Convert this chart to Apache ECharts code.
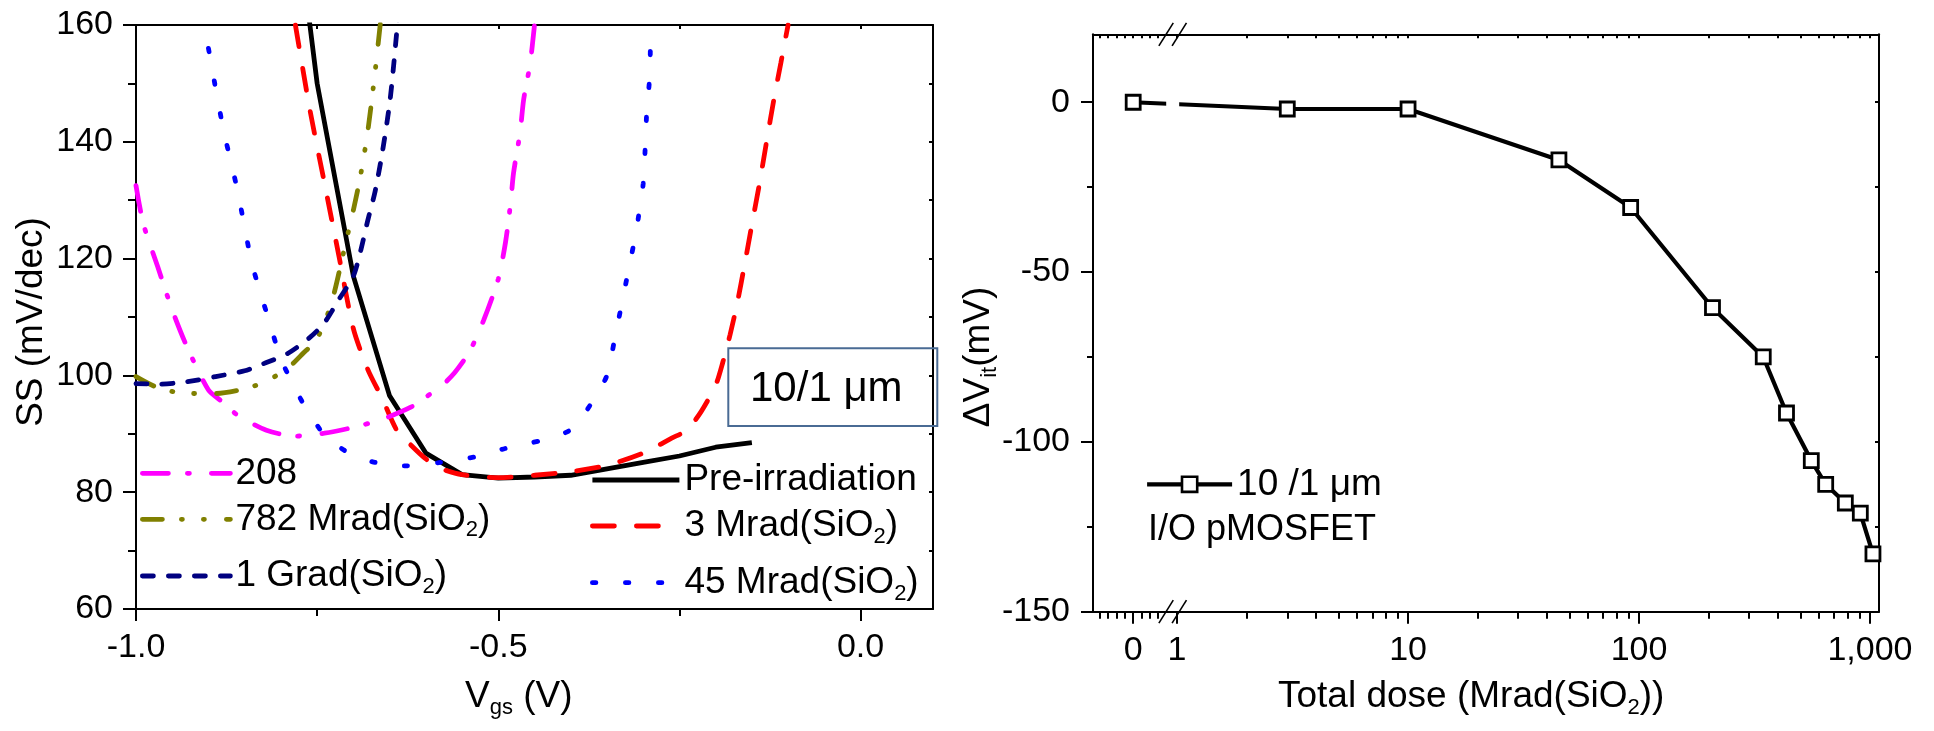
<!DOCTYPE html>
<html>
<head>
<meta charset="utf-8">
<script src="https://cdn.jsdelivr.net/npm/echarts@6/dist/echarts.min.js"></script>
<style>
  html, body { margin: 0; padding: 0; background: #fff; }
  #chart { width: 1934px; height: 731px; }
</style>
</head>
<body>
<div id="chart"></div>
<script>
const FONT = '"Liberation Sans", Arial, Helvetica, sans-serif';

// ---- Left panel: subthreshold swing SS (mV/dec) vs Vgs (V) ----
const preIrradiation = [[-0.80, 200], [-0.75, 150], [-0.70, 117], [-0.65, 96.5], [-0.60, 86.7],
  [-0.55, 83], [-0.50, 82.4], [-0.45, 82.6], [-0.40, 82.9], [-0.35, 84], [-0.30, 85.1],
  [-0.25, 86.2], [-0.20, 87.7], [-0.15, 88.5]];
const dose3M = [[-0.78, 160], [-0.76, 145.5], [-0.74, 133], [-0.72, 120.5], [-0.70, 108], [-0.68, 101],
  [-0.66, 96], [-0.64, 90.6], [-0.62, 88], [-0.60, 85.7], [-0.58, 84.1], [-0.55, 83], [-0.50, 82.5],
  [-0.45, 82.9], [-0.40, 83.5], [-0.35, 84.6], [-0.30, 86.7], [-0.26, 89.3], [-0.24, 90.6], [-0.22, 93.8],
  [-0.20, 98.3], [-0.19, 102.3], [-0.18, 107], [-0.17, 112.5], [-0.16, 119], [-0.15, 125.8],
  [-0.14, 132.5], [-0.13, 139.8], [-0.12, 147], [-0.11, 153.5], [-0.10, 160]];
const dose45M = [[-0.90, 156], [-0.88, 142.5], [-0.86, 131.7], [-0.84, 119.2], [-0.82, 110.8],
  [-0.80, 102.9], [-0.78, 97.6], [-0.76, 93.3], [-0.74, 89.8], [-0.72, 87.8], [-0.70, 86.3],
  [-0.67, 85.1], [-0.63, 84.5], [-0.58, 85.1], [-0.53, 86.1], [-0.49, 87.5], [-0.44, 88.9],
  [-0.40, 90.7], [-0.37, 95.5], [-0.35, 100], [-0.34, 105.8], [-0.33, 112], [-0.32, 118.2],
  [-0.31, 124.5], [-0.30, 132.8], [-0.297, 139.6], [-0.295, 145.3], [-0.291, 151.1], [-0.29, 157]];
const dose208M = [[-1.00, 132.5], [-0.99, 126], [-0.97, 118.6], [-0.95, 111.2], [-0.93, 105],
  [-0.90, 97.5], [-0.88, 95.4], [-0.86, 93.2], [-0.82, 90.6], [-0.78, 89.6], [-0.74, 90.1],
  [-0.70, 91.1], [-0.66, 92.5], [-0.62, 94.6], [-0.60, 96.3], [-0.58, 98], [-0.56, 100.5],
  [-0.54, 104], [-0.52, 109.5], [-0.50, 116.5], [-0.49, 122.8], [-0.483, 129.5], [-0.479, 134.6],
  [-0.47, 141.5], [-0.465, 147.2], [-0.456, 153.4], [-0.45, 160]];
const dose782M = [[-1.00, 99.8], [-0.97, 97.9], [-0.93, 96.9], [-0.89, 96.9], [-0.85, 97.7],
  [-0.82, 99], [-0.79, 101.3], [-0.77, 103.7], [-0.75, 106.3], [-0.73, 112.5], [-0.71, 123],
  [-0.70, 128.3], [-0.69, 134.3], [-0.68, 141.9], [-0.67, 152], [-0.66, 163.5]];
const dose1G = [[-1.00, 98.6], [-0.97, 98.5], [-0.93, 98.9], [-0.89, 99.8], [-0.85, 100.8],
  [-0.82, 102.2], [-0.79, 103.8], [-0.76, 106.5], [-0.74, 109], [-0.72, 113], [-0.70, 117],
  [-0.69, 121.3], [-0.68, 126.6], [-0.67, 131.5], [-0.66, 138.2], [-0.65, 146.5], [-0.645, 152.3],
  [-0.64, 159], [-0.635, 166]];

const vgsTicks = [-1.0, -0.5, 0.0];
const vgsMinorTicks = [-0.75, -0.25];
const ssTicks = [60, 80, 100, 120, 140, 160];
const ssMinorTicks = [70, 90, 110, 130, 150];

// ---- Right panel: Delta Vit (mV) vs total dose, broken log axis ----
const doseMrad = [0, 3, 10, 45, 92, 208, 345, 435, 557, 643, 782, 908, 1030];
const deltaVit = [0, -2, -2, -17, -31, -60.5, -75, -91.5, -105.5, -112.5, -118, -121, -133];
const doseTickValues = [0, 1, 10, 100, 1000];
const doseTickLabels = ['0', '1', '10', '100', '1,000'];
const dvTicks = [-150, -100, -50, 0];
const dvMinorTicks = [-125, -75, -25];

// Broken dose axis: a short linear stretch holding 0, then log10 decades from 1 Mrad.
const ZERO_POS = -0.19;    // axis position of dose 0 (decades relative to 1 Mrad)
const PRE_STEP = 0.036;    // spacing of minor ticks on the linear stretch
const BREAK_POS = -0.019;  // where the axis is broken
const DOSE_AX_MIN = -0.364, DOSE_AX_MAX = 3.039;
function doseToAxis(d) { return d >= 1 ? Math.log10(d) : ZERO_POS + d * PRE_STEP; }

const doseMajorPos = doseTickValues.map(doseToAxis);
const doseMinorPos = [];
[-4, -3, -2, -1, 1, 2, 3].forEach(k => doseMinorPos.push(ZERO_POS + k * PRE_STEP));
[1, 10, 100].forEach(dec => { for (let m = 2; m <= 9; m++) doseMinorPos.push(Math.log10(m * dec)); });

// ---- text helpers ----
const RICH = {
  m: { fontSize: 37, fontFamily: FONT, lineHeight: 44, color: '#000' },
  s: { fontSize: 22, fontFamily: FONT, lineHeight: 8, verticalAlign: 'bottom', color: '#000' }
};
const legendRich = {
  'Pre-irradiation': '{m|Pre-irradiation}',
  '3 Mrad(SiO2)': '{m|3 Mrad(SiO}{s|2}{m|)}',
  '45 Mrad(SiO2)': '{m|45 Mrad(SiO}{s|2}{m|)}',
  '208': '{m|208}',
  '782 Mrad(SiO2)': '{m|782 Mrad(SiO}{s|2}{m|)}',
  '1 Grad(SiO2)': '{m|1 Grad(SiO}{s|2}{m|)}',
  '10 /1 μm': '{m|10 /1 μm}'
};

const AX = { color: '#000', width: 2 };
const tickFont = { fontSize: 34, fontFamily: FONT, color: '#000' };
const SS_LINE_W = 4.8;
const DV_LINE_W = 4.2;

function plainAxis(extra) {
  return Object.assign({
    type: 'value',
    splitLine: { show: false },
    axisLine: { show: false, onZero: false, lineStyle: AX },
    axisLabel: { show: false },
    axisTick: { show: false }
  }, extra);
}

// Left grid axes
const xAxes = [
  plainAxis({ gridIndex: 0, position: 'bottom', min: -1, max: 0.1,
    axisLine: { show: true, onZero: false, lineStyle: AX },
    axisTick: { show: true, inside: false, length: 12, lineStyle: AX, customValues: vgsTicks },
    axisLabel: Object.assign({ show: true, margin: 22, customValues: vgsTicks,
      formatter: v => (Math.abs(v) < 1e-9 ? 0 : v).toFixed(1) }, tickFont) }),
  plainAxis({ gridIndex: 0, position: 'bottom', min: -1, max: 0.1,
    axisTick: { show: true, inside: false, length: 7, lineStyle: AX, customValues: vgsMinorTicks } }),
  plainAxis({ gridIndex: 0, position: 'top', min: -1, max: 0.1,
    axisLine: { show: true, onZero: false, lineStyle: AX },
    axisTick: { show: true, inside: true, length: 4, lineStyle: AX,
      customValues: vgsTicks.concat(vgsMinorTicks) } }),
  // Right grid axes
  plainAxis({ gridIndex: 1, position: 'bottom', min: DOSE_AX_MIN, max: DOSE_AX_MAX,
    axisLine: { show: true, onZero: false, lineStyle: AX },
    axisTick: { show: true, inside: false, length: 12, lineStyle: AX, customValues: doseMajorPos },
    axisLabel: Object.assign({ show: true, margin: 22, customValues: doseMajorPos,
      formatter: v => {
        const i = doseMajorPos.findIndex(p => Math.abs(p - v) < 1e-6);
        return i >= 0 ? doseTickLabels[i] : '';
      } }, tickFont) }),
  plainAxis({ gridIndex: 1, position: 'bottom', min: DOSE_AX_MIN, max: DOSE_AX_MAX,
    axisTick: { show: true, inside: false, length: 7, lineStyle: AX, customValues: doseMinorPos } }),
  plainAxis({ gridIndex: 1, position: 'top', min: DOSE_AX_MIN, max: DOSE_AX_MAX,
    axisLine: { show: true, onZero: false, lineStyle: AX },
    axisTick: { show: true, inside: true, length: 4, lineStyle: AX,
      customValues: doseMajorPos.concat(doseMinorPos) } })
];

const yAxes = [
  plainAxis({ gridIndex: 0, position: 'left', min: 60, max: 160,
    axisLine: { show: true, onZero: false, lineStyle: AX },
    axisTick: { show: true, inside: false, length: 13, lineStyle: AX, customValues: ssTicks },
    axisLabel: Object.assign({ show: true, margin: 23, customValues: ssTicks }, tickFont) }),
  plainAxis({ gridIndex: 0, position: 'left', min: 60, max: 160,
    axisTick: { show: true, inside: false, length: 8, lineStyle: AX, customValues: ssMinorTicks } }),
  plainAxis({ gridIndex: 0, position: 'right', min: 60, max: 160,
    axisLine: { show: true, onZero: false, lineStyle: AX },
    axisTick: { show: true, inside: true, length: 4, lineStyle: AX,
      customValues: ssTicks.concat(ssMinorTicks) } }),
  plainAxis({ gridIndex: 1, position: 'left', min: -150, max: 20,
    axisLine: { show: true, onZero: false, lineStyle: AX },
    axisTick: { show: true, inside: false, length: 12, lineStyle: AX, customValues: dvTicks },
    axisLabel: Object.assign({ show: true, margin: 23, customValues: dvTicks }, tickFont) }),
  plainAxis({ gridIndex: 1, position: 'left', min: -150, max: 20,
    axisTick: { show: true, inside: false, length: 6, lineStyle: AX, customValues: dvMinorTicks } }),
  plainAxis({ gridIndex: 1, position: 'right', min: -150, max: 20,
    axisLine: { show: true, onZero: false, lineStyle: AX },
    axisTick: { show: true, inside: true, length: 4, lineStyle: AX,
      customValues: dvTicks.concat(dvMinorTicks) } })
];

function ssLine(name, data, color, dash) {
  return {
    name, type: 'line', xAxisIndex: 0, yAxisIndex: 0, data,
    symbol: 'none', smooth: dash === 'solid' ? false : 0.25, clip: true,
    color,
    lineStyle: { color, width: SS_LINE_W, type: dash, cap: dash === 'solid' ? 'butt' : 'round' },
    emphasis: { disabled: true }
  };
}

const series = [
  ssLine('Pre-irradiation', preIrradiation, '#000000', 'solid'),
  ssLine('3 Mrad(SiO2)', dose3M, '#ff0000', [22, 22]),
  ssLine('45 Mrad(SiO2)', dose45M, '#0000ff', [3.5, 29.5]),
  ssLine('208', dose208M, '#ff00ff', [26, 19, 2, 22]),
  ssLine('782 Mrad(SiO2)', dose782M, '#808000', [20, 19, 1, 21, 1, 22]),
  ssLine('1 Grad(SiO2)', dose1G, '#000080', [11, 15]),
  {
    name: '10 /1 μm', type: 'line', xAxisIndex: 3, yAxisIndex: 3,
    data: doseMrad.map((d, i) => [doseToAxis(d), deltaVit[i]]),
    symbol: 'rect', symbolSize: 14, clip: false,
    itemStyle: { color: '#ffffff', borderColor: '#000000', borderWidth: 2.8 },
    lineStyle: { color: '#000000', width: DV_LINE_W },
    emphasis: { disabled: true }
  }
];

function singleLegend(name, left, centerY, itemWidth, itemHeight, withMarker) {
  return {
    data: [name], left, top: centerY - 22, padding: 0, orient: 'vertical',
    itemWidth, itemHeight, selectedMode: false,
    formatter: n => legendRich[n],
    lineStyle: { width: withMarker ? DV_LINE_W : SS_LINE_W },
    itemStyle: withMarker ? { borderWidth: 2.6, borderColor: '#000', color: '#fff' } : { opacity: 0 },
    textStyle: { fontSize: 37, fontFamily: FONT, color: '#000', lineHeight: 44, rich: RICH }
  };
}

const legends = [
  singleLegend('208', 140, 473.3, 88, 14, false),
  singleLegend('782 Mrad(SiO2)', 140, 519.3, 88, 14, false),
  singleLegend('1 Grad(SiO2)', 140, 576, 88, 14, false),
  singleLegend('Pre-irradiation', 590, 480, 87, 14, false),
  singleLegend('3 Mrad(SiO2)', 590, 526, 87, 14, false),
  singleLegend('45 Mrad(SiO2)', 590, 582.7, 87, 14, false),
  singleLegend('10 /1 μm', 1145, 484.3, 85, 19, true)
];

const chart = echarts.init(document.getElementById('chart'), null, { renderer: 'canvas' });
chart.setOption({
  backgroundColor: '#ffffff',
  animation: false,
  grid: [
    { left: 136, top: 25, width: 797, height: 584, containLabel: false },
    { left: 1093, top: 34.3, width: 786, height: 577.4, containLabel: false }
  ],
  xAxis: xAxes,
  yAxis: yAxes,
  legend: legends,
  series
});

// Annotations, axis titles and the break marks on the dose axis
const bx = chart.convertToPixel({ xAxisIndex: 3 }, BREAK_POS);
const yTop = chart.convertToPixel({ yAxisIndex: 3 }, 20);
const yBot = chart.convertToPixel({ yAxisIndex: 3 }, -150);
const p0 = chart.convertToPixel({ xAxisIndex: 3, yAxisIndex: 3 }, [doseToAxis(doseMrad[0]), deltaVit[0]]);
const p1 = chart.convertToPixel({ xAxisIndex: 3, yAxisIndex: 3 }, [doseToAxis(doseMrad[1]), deltaVit[1]]);
const lineYAtBreak = p0[1] + (p1[1] - p0[1]) * (bx - p0[0]) / (p1[0] - p0[0]);

function breakMark(cy) {
  const dx = 7.2, dy = 11.5, off = 6.6;
  return {
    type: 'group', z: 100,
    children: [
      { type: 'polygon', shape: { points: [[bx - off - dx, cy + dy], [bx - off + dx, cy - dy], [bx + off + dx, cy - dy], [bx + off - dx, cy + dy]] },
        style: { fill: '#ffffff', stroke: null } },
      { type: 'line', shape: { x1: bx - off - dx, y1: cy + dy, x2: bx - off + dx, y2: cy - dy }, style: { stroke: '#000', lineWidth: 1.6 } },
      { type: 'line', shape: { x1: bx + off - dx, y1: cy + dy, x2: bx + off + dx, y2: cy - dy }, style: { stroke: '#000', lineWidth: 1.6 } }
    ]
  };
}

chart.setOption({
  graphic: [
    { type: 'rect', z: 99, shape: { x: bx - 6.5, y: lineYAtBreak - 6, width: 13, height: 12 }, style: { fill: '#ffffff' } },
    breakMark(yTop),
    breakMark(yBot),
    { type: 'rect', z: 50, shape: { x: 728.3, y: 348.3, width: 209, height: 77.7 },
      style: { fill: 'none', stroke: '#4a6b94', lineWidth: 2 } },
    { type: 'text', z: 50, x: 750, y: 389,
      style: { text: '10/1 μm', fontSize: 42, fontFamily: FONT, fill: '#000', align: 'left', verticalAlign: 'middle' } },
    { type: 'text', z: 50, x: 32, y: 322, rotation: Math.PI / 2,
      style: { text: 'SS (mV/dec)', fontSize: 37, fontFamily: FONT, fill: '#000', align: 'center', verticalAlign: 'middle' } },
    { type: 'text', z: 50, x: 465, y: 697,
      style: { text: '{m|V}{s|gs}{m| (V)}', rich: RICH, align: 'left', verticalAlign: 'middle' } },
    { type: 'text', z: 50, x: 979, y: 357, rotation: Math.PI / 2,
      style: { text: '{m|ΔV}{s|it}{m|(mV)}', rich: RICH, align: 'center', verticalAlign: 'middle' } },
    { type: 'text', z: 50, x: 1278, y: 697,
      style: { text: '{m|Total dose (Mrad(SiO}{s|2}{m|))}', rich: RICH, align: 'left', verticalAlign: 'middle' } },
    { type: 'text', z: 50, x: 1148, y: 530,
      style: { text: 'I/O pMOSFET', fontSize: 36, fontFamily: FONT, fill: '#000', align: 'left', verticalAlign: 'middle' } }
  ]
});
</script>
</body>
</html>
